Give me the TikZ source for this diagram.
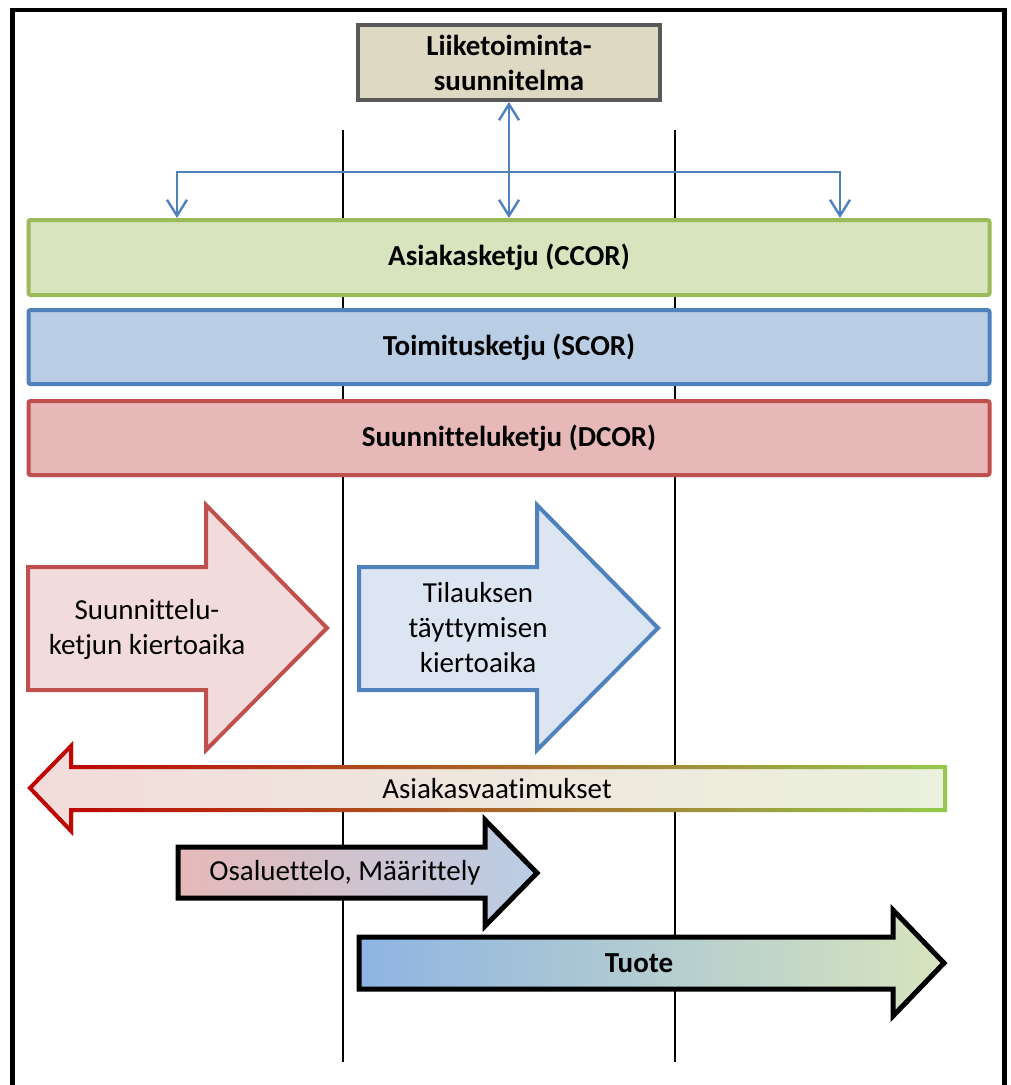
\documentclass[tikz,border=0pt]{standalone}
\usepackage{fontspec}
\setmainfont[Ligatures=NoCommon]{Carlito}
\usetikzlibrary{arrows.meta}

\definecolor{planfill}{HTML}{DDD9C3}
\definecolor{planline}{HTML}{595959}
\definecolor{ccorfill}{HTML}{D7E4BD}
\definecolor{ccorline}{HTML}{9BBB59}
\definecolor{scorfill}{HTML}{B9CDE5}
\definecolor{scorline}{HTML}{4F81BD}
\definecolor{dcorfill}{HTML}{E6B9B8}
\definecolor{dcorline}{HTML}{C0504D}
\definecolor{redlight}{HTML}{F2DCDB}
\definecolor{bluelight}{HTML}{DCE6F2}
\definecolor{greenlight}{HTML}{EBF1DE}
\definecolor{deepred}{HTML}{C00000}
\definecolor{brightgreen}{HTML}{92D050}
\definecolor{tuoteblue}{HTML}{8EB4E3}
\definecolor{tuotegreen}{HTML}{D7E4BD}
\definecolor{linkblue}{HTML}{4F81BD}

\begin{document}
\begin{tikzpicture}[x=1pt,y=-1pt,
  txt/.style={font=\fontsize{29}{35}\selectfont, inner sep=0pt, align=center},
  boldtxt/.style={txt, font=\fontsize{29}{35}\selectfont\bfseries},
  planbox/.style={boldtxt, draw=planline, fill=planfill, line width=4pt,
    minimum width=302pt, minimum height=75pt},
  chainbar/.style={boldtxt, line width=4pt, rounded corners=2pt,
    minimum width=961pt},
  link/.style={draw=linkblue, line width=2.4pt},
  dbarb/.style={{Straight Barb[length=16pt,width=20pt]}-{Straight Barb[length=16pt,width=20pt]}},
  guide/.style={draw=black, line width=1.6pt},
  blockarrow/.style={line width=4pt, line join=miter},
  darkarrow/.style={line width=5pt, line join=miter, draw=black},
]
\clip (0,0) rectangle (1011,1085);
\fill[white] (0,0) rectangle (1011,1085);

% outer frame (open at the bottom)
\draw[line width=4.5pt] (12.5,1100) -- (12.5,10) -- (1004.5,10) -- (1004.5,1100);

% phase separators
\coordinate (g1top) at (343,130);
\coordinate (g1bot) at (343,1062);
\coordinate (g2top) at (675,130);
\coordinate (g2bot) at (675,1062);
\draw[guide] (g1top) -- (g1bot);
\draw[guide] (g2top) -- (g2bot);

% business plan
\node[planbox] (plan) at (509,62.5) {Liiketoiminta-\\suunnitelma};

% the three chains
\node[chainbar, draw=ccorline, fill=ccorfill, minimum height=75pt] (ccor) at (509,257.5) {Asiakasketju (CCOR)};
\node[chainbar, draw=scorline, fill=scorfill, minimum height=74pt] (scor) at (509,347) {Toimitusketju (SCOR)};
\node[chainbar, draw=dcorline, fill=dcorfill, minimum height=74pt] (dcor) at (509,438) {Suunnitteluketju (DCOR)};

% links from the plan to the customer chain
\coordinate (busL) at (177,172);
\coordinate (busR) at (840,172);
\draw[link, dbarb] (plan.south) -- (ccor.north);
\draw[link, dbarb] (busL |- ccor.north) -- (busL) -- (busR) -- (busR |- ccor.north);

% cycle-time arrows
\draw[blockarrow, draw=dcorline, fill=redlight]
  (28,567) -- (206,567) -- (206,505) -- (327,628) -- (206,750) -- (206,690) -- (28,690) -- cycle;
\node[txt] (designcycle) at (147,629) {Suunnittelu-\\ketjun kiertoaika};

\draw[blockarrow, draw=scorline, fill=bluelight]
  (359,567) -- (537,567) -- (537,505) -- (658,628) -- (537,750) -- (537,690) -- (359,690) -- cycle;
\node[txt] (ordercycle) at (478,628) {Tilauksen\\täyttymisen\\kiertoaika};

% customer requirements (gradient fill and gradient outline)
\def\reqpath{(30,788) -- (71,746) -- (71,767) -- (945,767) -- (945,810) -- (71,810) -- (71,831) -- cycle}
\shade[left color=redlight, right color=greenlight] \reqpath;
\foreach \i in {0,...,79}{
  \pgfmathsetmacro\xa{25+\i*12}
  \pgfmathtruncatemacro\p{round(100*\i/79)}
  \begin{scope}
    \clip (\xa,730) rectangle (\xa+12.5,850);
    \draw[blockarrow, brightgreen!\p!deepred] \reqpath;
  \end{scope}
}
\node[txt] (requirements) at (497,789) {Asiakasvaatimukset};

% bill of materials / specification
\draw[darkarrow, left color=dcorfill, right color=scorfill]
  (178,847) -- (485,847) -- (485,820) -- (537,873) -- (485,926) -- (485,898) -- (178,898) -- cycle;
\node[txt] (bom) at (345,873) {Osaluettelo, Määrittely};

% product
\draw[darkarrow, left color=tuoteblue, right color=tuotegreen]
  (359,937) -- (893,937) -- (893,910) -- (944,963) -- (893,1016) -- (893,989) -- (359,989) -- cycle;
\node[boldtxt] (product) at (639,963) {Tuote};
\end{tikzpicture}
\end{document}
